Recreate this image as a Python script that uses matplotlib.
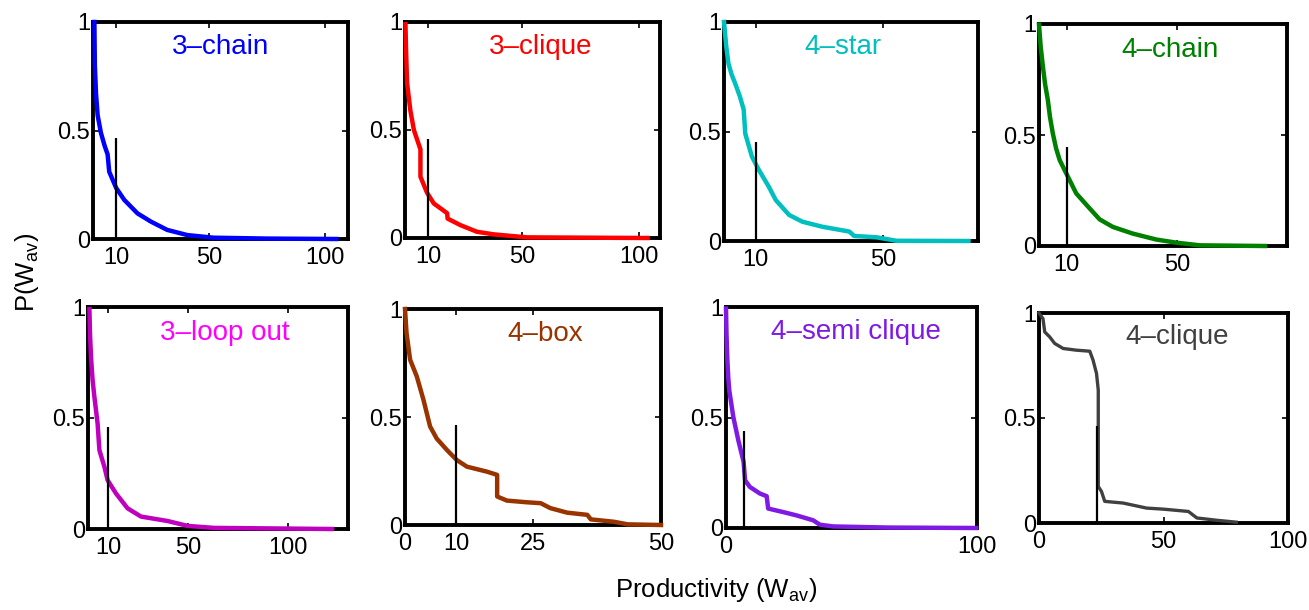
#!/usr/bin/env python3
# -*- coding: utf-8 -*-
"""
plot.py

Cumulative productivity distribution P(W_av) for eight motifs
"""
import matplotlib
matplotlib.use('Agg')
import matplotlib.pyplot as plt

### Data

MOTIFS = ['3\u2013chain', '3\u2013clique', '4\u2013star', '4\u2013chain',
          '3\u2013loop out', '4\u2013box', '4\u2013semi clique', '4\u2013clique']

chain3_x = [0.6, 0.8, 1.3, 2.0, 3.4, 5.0, 6.3, 7.0, 10, 13.5, 19.2, 25, 32, 40.7, 52, 75, 105]
chain3_y = [1.0, 0.80, 0.67, 0.57, 0.49, 0.43, 0.39, 0.31, 0.235, 0.18, 0.118, 0.08, 0.042, 0.018, 0.006, 0.002, 0.0]

clique3_x = [0.2, 0.5, 0.9, 2.3, 3.8, 6.6, 6.6, 9.4, 12.3, 18, 18.2, 23.6, 30.7, 37.8, 52, 103.7]
clique3_y = [0.99, 0.85, 0.716, 0.59, 0.50, 0.41, 0.284, 0.21, 0.16, 0.115, 0.09, 0.06, 0.029, 0.017, 0.003, 0.0]

star4_x = [0.0, 0.7, 1.4, 2.4, 3.5, 5.0, 6.2, 6.7, 8.8, 11, 14.1, 16.3, 20.5, 24.7, 31, 39.5, 41, 48, 54.3, 77]
star4_y = [1.0, 0.89, 0.81, 0.76, 0.72, 0.66, 0.60, 0.49, 0.385, 0.324, 0.248, 0.187, 0.119, 0.088,
           0.065, 0.043, 0.023, 0.017, 0.001, 0.0]

chain4_x = [0.0, 0.6, 1.4, 2.2, 3.2, 4.0, 5.0, 6.2, 7.5, 10.5, 13.5, 18.4, 22, 26.8, 34, 42.6, 49.9, 58.4, 82]
chain4_y = [0.997, 0.90, 0.81, 0.73, 0.658, 0.58, 0.508, 0.44, 0.387, 0.312, 0.237, 0.169, 0.12,
            0.086, 0.056, 0.029, 0.015, 0.003, 0.0]

loop3_x = [0.7, 1.0, 1.5, 2.3, 3.2, 4.8, 5.7, 8.2, 9.8, 14, 19.8, 26.5, 39.8, 49.8, 63, 122]
loop3_y = [0.99, 0.88, 0.775, 0.67, 0.595, 0.475, 0.355, 0.28, 0.22, 0.16, 0.093, 0.056, 0.036, 0.014, 0.005, 0.0]

box4_x = [0.0, 0.3, 1.0, 2.3, 3.6, 4.9, 6.2, 8.2, 10.1, 12.1, 16, 18, 18, 19.9, 23.9,
          26.5, 28.4, 31.7, 35.6, 36.3, 40.8, 43.5, 50]
box4_y = [1.0, 0.889, 0.765, 0.688, 0.58, 0.456, 0.40, 0.347, 0.301, 0.27, 0.247, 0.232, 0.132,
          0.113, 0.105, 0.101, 0.078, 0.057, 0.047, 0.026, 0.015, 0.003, 0.0]

semi4_x = [0.0, 0.2, 0.5, 0.9, 1.3, 2.9, 4.9, 6.2, 7.0, 7.6, 9.5, 13.5, 16.2, 16.8, 22.8, 28.1,
           34.7, 37.4, 42.7, 65, 99.7]
semi4_y = [0.993, 0.88, 0.77, 0.68, 0.623, 0.503, 0.397, 0.337, 0.30, 0.216, 0.186, 0.156, 0.144,
           0.088, 0.072, 0.057, 0.035, 0.015, 0.007, 0.002, 0.0]

clique4_x = [0.0, 1.6, 2.3, 4.3, 6.3, 9.7, 15, 20.4, 21.7, 23.1, 23.8, 23.8, 23.8, 25.1,
             26.4, 33.8, 43.2, 49.9, 60, 63.4, 71.4, 79.2]
clique4_y = [1.0, 0.973, 0.91, 0.886, 0.855, 0.831, 0.823, 0.818, 0.776, 0.712, 0.633, 0.475,
             0.174, 0.150, 0.103, 0.095, 0.071, 0.066, 0.055, 0.024, 0.013, 0.004]

CURVES_X = [chain3_x, clique3_x, star4_x, chain4_x, loop3_x, box4_x, semi4_x, clique4_x]
CURVES_Y = [chain3_y, clique3_y, star4_y, chain4_y, loop3_y, box4_y, semi4_y, clique4_y]

# vertical marker (position, height) in each panel
MARK_X = [10, 10, 10, 10, 10, 10, 7.2, 23.4]
MARK_H = [0.467, 0.46, 0.453, 0.447, 0.46, 0.464, 0.44, 0.46]

# x axes
XLIMS  = [110, 109, 80, 90, 130, 50, 100, 100]
XTICKS = [[10, 50, 100], [10, 50, 100], [10, 50], [10, 50],
          [10, 50, 100], [0, 10, 25, 50], [0, 100], [0, 50, 100]]

### Style

LINE_COLORS  = ['#0000FF', '#FF0000', '#00BFBF', '#008000',
                '#BF00BF', '#993300', '#7F1AE5', '#404040']
TITLE_COLORS = ['#0000FF', '#FF0000', '#00BFBF', '#008000',
                '#FF00FF', '#993300', '#7F1AE5', '#404040']
TITLE_XPOS   = [0.50, 0.53, 0.47, 0.53, 0.527, 0.547, 0.518, 0.556]

W, H = 1309, 610
# axes boxes in pixels: left, right, top, bottom
BOXES = [(93, 348, 22, 239), (405, 660, 22, 238), (724, 978, 22, 241), (1039, 1287, 24, 246),
         (88, 348, 307, 529), (405, 661, 309, 525), (726, 977, 307, 528), (1039, 1288, 313, 523)]

plt.rcParams['font.family'] = ['Liberation Sans', 'DejaVu Sans']
plt.rcParams['mathtext.default'] = 'regular'


def setup_axis(fig, box, xlim, xticks):
    '''
    MATLAB-like framed axis with inward ticks
    '''
    left, right, top, bottom = box
    axis = fig.add_axes([left / W, 1 - bottom / H, (right - left) / W, (bottom - top) / H])
    axis.set_xlim(0, xlim)
    axis.set_ylim(0, 1)
    axis.set_xticks(xticks)
    axis.set_xticklabels([f'{t}' for t in xticks])
    axis.set_yticks([0, 0.5, 1])
    axis.set_yticklabels(['0', '0.5', '1'])
    axis.tick_params(direction='in', length=4, width=1.2, top=True, right=True,
                     labelsize=17)
    axis.tick_params(axis='x', pad=6)
    axis.tick_params(axis='y', pad=2)
    for spine in axis.spines.values():
        spine.set_linewidth(2.8)
    return axis


fig = plt.figure(figsize=(W / 100, H / 100), dpi=100)

for i, name in enumerate(MOTIFS):
    axis = setup_axis(fig, BOXES[i], XLIMS[i], XTICKS[i])
    axis.plot(CURVES_X[i], CURVES_Y[i],
              color=LINE_COLORS[i],
              linewidth=2.4 if i == 7 else 3.2,
              solid_joinstyle='round',
              zorder=3,
              clip_on=False,
              )
    axis.vlines(MARK_X[i], 0, MARK_H[i], color='black', linewidth=1.6, zorder=4)
    axis.text(TITLE_XPOS[i], 0.885, name,
              transform=axis.transAxes,
              ha='center', va='center',
              fontsize=20,
              color=TITLE_COLORS[i],
              )

fig.text(716 / W, 1 - 590 / H, 'Productivity (W$_{av}$)',
         ha='center', va='center', fontsize=18.5)
fig.text(27 / W, 1 - 272 / H, 'P(W$_{av}$)',
         ha='center', va='center', rotation=90, fontsize=18.5)

plt.savefig('out.png', dpi=100)
